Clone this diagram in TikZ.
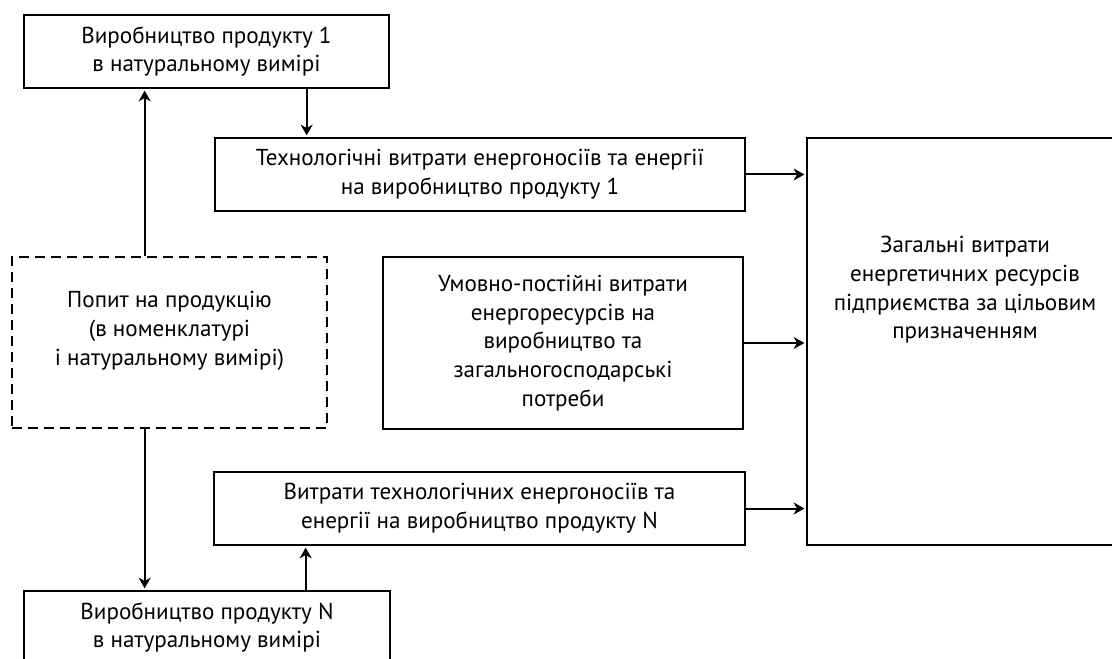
\documentclass[tikz,border=0pt]{standalone}
\usepackage{fontspec}
\setmainfont{PT Sans}
\usetikzlibrary{arrows.meta,calc,positioning}
\def\pxl{0.75pt}
\begin{document}
\begin{tikzpicture}
[x=0.75pt, y=-0.75pt, font=\fontsize{17.3}{21.5}\selectfont, line width=1.5pt,
box/.style={rectangle, draw=black, line width=2pt, align=center, inner sep=0pt},
demandbox/.style={box, dash pattern=on 7.5pt off 4.5pt},
flow/.style={-{Stealth[length=8pt,width=9pt,inset=2.5pt]}, line width=1.5pt, shorten >=1pt}
]

\clip (0,0) rectangle (1112,659);

% Production boxes
\node[box, minimum width=365*\pxl, minimum height=73*\pxl] (prodone) at (206.5,51.5) {Виробництво продукту 1\\в натуральному вимірі};
\node[box, minimum width=366*\pxl, minimum height=73*\pxl] (prodn) at (207,627.5) {Виробництво продукту N\\в натуральному вимірі};

% Demand
\node[demandbox, minimum width=315*\pxl, minimum height=171*\pxl] (demand) at (169.5,342.5) {};
\node[align=center] (demandtext) at (169.5,331) {Попит на продукцію\\(в номенклатурі\\і натуральному вимірі)};

% Energy cost boxes
\node[box, minimum width=530*\pxl, minimum height=73*\pxl] (techone) at (480,174.5) {Технологічні витрати енергоносіїв та енергії\\на виробництво продукту 1};
\node[box, minimum width=360*\pxl, minimum height=172*\pxl] (fixed) at (563,343) {Умовно-постійні витрати\\енергоресурсів на\\виробництво та\\загальногосподарські\\потреби};
\node[box, minimum width=531*\pxl, minimum height=73*\pxl] (techn) at (479.5,508.5) {Витрати технологічних енергоносіїв та\\енергії на виробництво продукту N};

% Total
\node[box, minimum width=320*\pxl, minimum height=407*\pxl] (total) at (967,341.5) {};
\node[align=center] (totaltext) at (965,290) {Загальні витрати\\енергетичних ресурсів\\підприємства за цільовим\\призначенням};

% Connectors
\coordinate (demup) at ($(demand.north west)+(134,0)$);
\coordinate (demdown) at ($(demand.south west)+(134,0)$);
\coordinate (onedown) at ($(prodone.south west)+(284,0)$);
\coordinate (nup) at ($(prodn.north west)+(283,0)$);

\draw[flow] (demup) -- (demup |- prodone.south);
\draw[flow] (onedown) -- (onedown |- techone.north);
\draw[flow] (demdown) -- (demdown |- prodn.north);
\draw[flow] (nup) -- (nup |- techn.south);

\draw[flow] (techone.east) -- (techone.east -| total.west);
\draw[flow] (fixed.east) -- (fixed.east -| total.west);
\draw[flow] (techn.east) -- (techn.east -| total.west);
\end{tikzpicture}
\end{document}
